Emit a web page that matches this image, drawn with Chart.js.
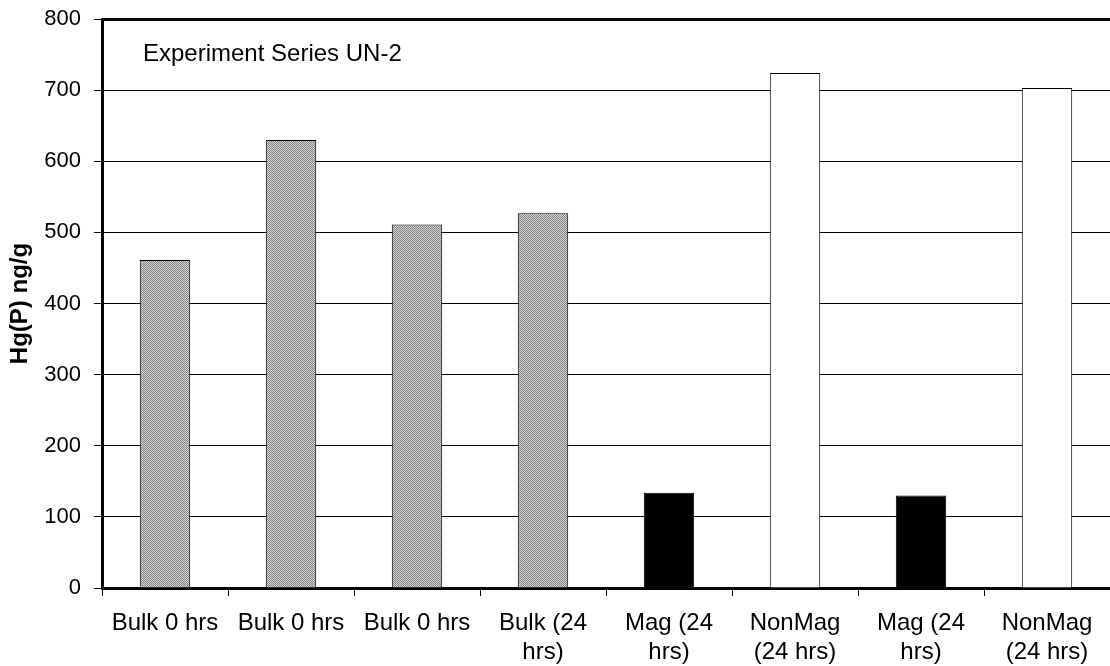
<!DOCTYPE html>
<html>
<head>
<meta charset="utf-8">
<script src="https://cdn.jsdelivr.net/npm/chart.js@4/dist/chart.umd.min.js"></script>
<style>
  html, body { margin: 0; padding: 0; background: #fff; }
  #wrap { width: 1110px; height: 666px; }
</style>
</head>
<body>
<div id="wrap"><canvas id="chart" width="1110" height="666"></canvas></div>
<script>
// Data
const categories = [
  ['Bulk 0 hrs'], ['Bulk 0 hrs'], ['Bulk 0 hrs'], ['Bulk (24', 'hrs)'],
  ['Mag (24', 'hrs)'], ['NonMag', '(24 hrs)'], ['Mag (24', 'hrs)'], ['NonMag', '(24 hrs)']
];
const hgValues = [461, 630, 511, 527, 134, 724, 130, 703];
const sampleType = ['Bulk', 'Bulk', 'Bulk', 'Bulk', 'Mag', 'NonMag', 'Mag', 'NonMag'];
const yTicks = [0, 100, 200, 300, 400, 500, 600, 700, 800];
const seriesTitle = 'Experiment Series UN-2';

// Checkered gray fill for the bulk samples
function makeHatch() {
  const c = document.createElement('canvas');
  c.width = 2; c.height = 2;
  const g = c.getContext('2d');
  g.fillStyle = '#d2d2d2';
  g.fillRect(0, 0, 2, 2);
  g.fillStyle = '#858585';
  g.fillRect(0, 0, 1, 1);
  g.fillRect(1, 1, 1, 1);
  return g.createPattern(c, 'repeat');
}
const hatch = makeHatch();
const fillFor = { Bulk: hatch, Mag: '#000000', NonMag: '#ffffff' };

const FONT = "'Liberation Sans', Arial, sans-serif";

const seriesLabel = {
  id: 'seriesLabel',
  afterDraw(chart) {
    const { ctx, chartArea } = chart;
    ctx.save();
    ctx.font = '24px ' + FONT;
    ctx.fillStyle = '#000';
    ctx.textBaseline = 'middle';
    ctx.fillText(seriesTitle, chartArea.left + 41, chartArea.top + 35);
    ctx.restore();
  }
};

new Chart(document.getElementById('chart'), {
  type: 'bar',
  data: {
    labels: categories,
    datasets: [{
      data: hgValues,
      backgroundColor: sampleType.map(t => fillFor[t]),
      borderColor: '#000',
      borderWidth: 1,
      barPercentage: 0.4,
      categoryPercentage: 1.0
    }]
  },
  options: {
    responsive: false,
    animation: false,
    layout: { padding: { top: 19, right: 0, left: 0, bottom: 0 } },
    plugins: {
      legend: { display: false },
      tooltip: { enabled: false }
    },
    scales: {
      x: {
        afterFit(scale) {
          scale.height = 78;
          scale.paddingLeft = 0;
          scale.paddingRight = 0;
        },
        grid: {
          offset: true,
          drawOnChartArea: false,
          drawTicks: true,
          tickLength: 8,
          color: '#000'
        },
        border: { display: true, color: '#000', width: 3 },
        ticks: {
          color: '#000',
          font: { family: FONT, size: 24, lineHeight: 1.2 },
          maxRotation: 0,
          autoSkip: false,
          padding: 13
        }
      },
      y: {
        min: 0,
        max: 800,
        afterBuildTicks(axis) {
          axis.ticks = yTicks.map(v => ({ value: v }));
        },
        afterFit(scale) {
          scale.width = 102;
          scale.paddingTop = 0;
          scale.paddingBottom = 0;
        },
        grid: {
          color: '#000',
          lineWidth: (c) => (c.tick && c.tick.value === 800 ? 3 : 1),
          tickLength: 8,
          tickWidth: 1,
          tickColor: '#000'
        },
        border: { display: true, color: '#000', width: 3 },
        ticks: {
          color: '#000',
          font: { family: FONT, size: 22 },
          padding: 13
        },
        title: {
          display: true,
          text: 'Hg(P) ng/g',
          color: '#000',
          font: { family: FONT, size: 24, weight: 'bold' },
          padding: { top: 6, bottom: 4 }
        }
      }
    }
  },
  plugins: [seriesLabel]
});
</script>
</body>
</html>
